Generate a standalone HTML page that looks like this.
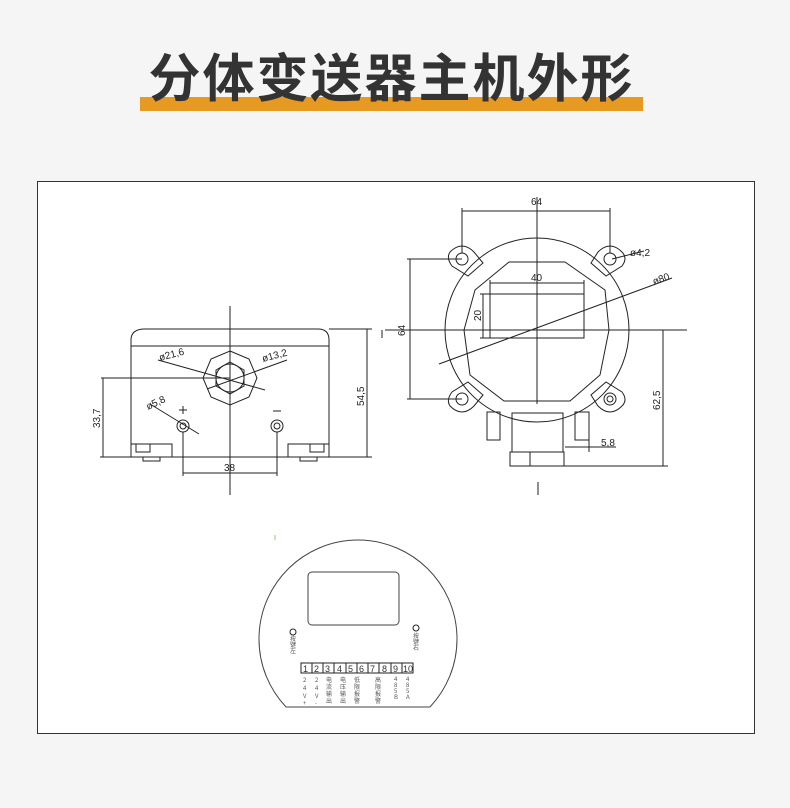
<!DOCTYPE html>
<html><head><meta charset="utf-8"><style>
body{margin:0;background:#f5f5f5;width:790px;height:808px;overflow:hidden;position:relative;font-family:"Liberation Sans","Noto Sans CJK SC",sans-serif}
.bar{position:absolute;left:140px;top:97px;width:503px;height:14px;background:#e69a22}
.title{position:absolute;left:140px;width:503px;top:40px;text-align:center;font-family:"Noto Sans CJK SC",sans-serif;font-weight:bold;font-size:52px;line-height:70px;color:#333;letter-spacing:2px;white-space:nowrap}
.box{position:absolute;left:37px;top:181px;width:716px;height:551px;background:#fff;border:1px solid #333}
svg{position:absolute;left:0;top:0}
</style></head><body>
<div class="bar"></div>
<div class="title">分体变送器主机外形</div>
<div class="box"></div>
<svg width="790" height="808" viewBox="0 0 790 808" fill="none" stroke="#222" stroke-width="1" font-family="Liberation Sans, sans-serif">
<!-- Left drawing -->
<path d="M131 346 L131 340 Q131 329 145 329 L318 329 Q329 329 329 340 L329 346 Z"/>
<line x1="131" y1="346" x2="329" y2="346"/>
<rect x="131" y="346" width="198" height="111"/>
<line x1="230" y1="306" x2="230" y2="495"/>
<polygon points="230,351 249,359 257,378 249,397 230,405 211,397 203,378 211,359"/>
<polygon points="230,362 244,370 244,386 230,394 216,386 216,370"/>
<circle cx="230" cy="378" r="14"/>
<rect x="131" y="444" width="41" height="13"/><rect x="136" y="444" width="14" height="8"/><rect x="143" y="457" width="17" height="4"/>
<rect x="288" y="444" width="41" height="13"/><rect x="310" y="444" width="14" height="8"/><rect x="300" y="457" width="17" height="4"/>
<circle cx="183" cy="426" r="6"/><circle cx="183" cy="426" r="3"/>
<circle cx="277" cy="426" r="6"/><circle cx="277" cy="426" r="3"/>
<line x1="183" y1="432" x2="183" y2="476"/><line x1="277" y1="432" x2="277" y2="476"/>
<line x1="183" y1="473" x2="277" y2="473"/>
<line x1="101" y1="378" x2="230" y2="378"/><line x1="103" y1="378" x2="103" y2="457"/><line x1="100" y1="457" x2="131" y2="457"/>
<line x1="329" y1="329" x2="372" y2="329"/><line x1="329" y1="457" x2="372" y2="457"/><line x1="367" y1="329" x2="367" y2="457"/>
<line x1="158" y1="360" x2="265" y2="390"/><line x1="207" y1="389" x2="287" y2="360"/>
<line x1="150" y1="404" x2="199" y2="434"/>
<line x1="179" y1="410" x2="187" y2="410"/><line x1="183" y1="406" x2="183" y2="414"/>
<line x1="273" y1="411" x2="281" y2="411"/>
<line x1="382" y1="330" x2="382" y2="338"/>
<g fill="#222" stroke="none" font-size="10">
<text x="160" y="361" transform="rotate(-15 160 361)">ø21,6</text>
<text x="263" y="362" transform="rotate(-15 263 362)">ø13,2</text>
<text x="148" y="410" transform="rotate(-25 148 410)">ø5,8</text>
<text x="224" y="471">38</text>
<text x="100" y="428" transform="rotate(-90 100 428)">33,7</text>
<text x="364" y="406" transform="rotate(-90 364 406)">54,5</text>
</g>
<!-- Right drawing -->
<circle cx="537" cy="330" r="92"/>
<polygon points="509,262 565,262 605,290 609,330 600,375 570,401 504,401 470,375 464,330 475,290"/>
<g>
<path d="M450 252 Q462 240 474 252 L483 263 L468 276 L452 266 Q446 258 450 252Z"/>
<path d="M622 252 Q610 240 598 252 L591 263 L606 276 L622 266 Q628 258 622 252Z"/>
<path d="M450 406 Q462 418 474 406 L483 395 L468 382 L452 392 Q446 400 450 406Z"/>
<path d="M622 406 Q610 418 598 406 L591 395 L606 382 L622 392 Q628 400 622 406Z"/>
<circle cx="462" cy="259" r="6"/><circle cx="610" cy="259" r="6"/><circle cx="462" cy="399" r="6"/><circle cx="610" cy="399" r="6"/>
<circle cx="610" cy="399" r="3"/>
</g>
<line x1="462" y1="208" x2="462" y2="253"/><line x1="610" y1="208" x2="610" y2="253"/><line x1="462" y1="211" x2="610" y2="211"/>
<line x1="537" y1="197" x2="537" y2="404"/><line x1="385" y1="330" x2="687" y2="330"/>
<rect x="490" y="294" width="94" height="44"/>
<line x1="490" y1="283" x2="584" y2="283"/><line x1="490" y1="280" x2="490" y2="294"/><line x1="584" y1="280" x2="584" y2="294"/>
<line x1="483" y1="294" x2="483" y2="338"/><line x1="480" y1="294" x2="490" y2="294"/><line x1="480" y1="338" x2="490" y2="338"/>
<line x1="407" y1="259" x2="462" y2="259"/><line x1="407" y1="399" x2="462" y2="399"/><line x1="410" y1="259" x2="410" y2="399"/>
<line x1="439" y1="364" x2="672" y2="278"/>
<line x1="612" y1="259" x2="644" y2="251"/>
<rect x="512" y="413" width="51" height="39"/>
<rect x="510" y="452" width="54" height="14"/><line x1="530" y1="452" x2="530" y2="466"/>
<rect x="487" y="412" width="13" height="28"/><rect x="575" y="412" width="14" height="28"/>
<line x1="564" y1="466" x2="668" y2="466"/><line x1="663" y1="330" x2="663" y2="466"/>
<line x1="565" y1="447" x2="616" y2="447"/><line x1="589" y1="440" x2="589" y2="452"/>
<line x1="538" y1="482" x2="538" y2="495"/>
<g fill="#222" stroke="none" font-size="10">
<text x="531" y="205">64</text>
<text x="531" y="281">40</text>
<text x="481" y="321" transform="rotate(-90 481 321)">20</text>
<text x="405" y="336" transform="rotate(-90 405 336)">64</text>
<text x="630" y="256">ø4,2</text>
<text x="654" y="285" transform="rotate(-20 654 285)">ø80</text>
<text x="601" y="446">5,8</text>
<text x="660" y="410" transform="rotate(-90 660 410)">62,5</text>
</g>
<!-- Bottom drawing -->
<path d="M286 707 A99 99 0 1 1 430 707 Z" stroke="#444"/>
<rect x="308" y="572" width="91" height="53" rx="4" stroke="#444"/>
<circle cx="293" cy="632" r="3"/><circle cx="416" cy="628" r="3"/>
<rect x="301" y="663" width="112" height="10"/>
<g>
<line x1="312" y1="663" x2="312" y2="673"/><line x1="323" y1="663" x2="323" y2="673"/><line x1="334" y1="663" x2="334" y2="673"/><line x1="346" y1="663" x2="346" y2="673"/><line x1="357" y1="663" x2="357" y2="673"/><line x1="368" y1="663" x2="368" y2="673"/><line x1="379" y1="663" x2="379" y2="673"/><line x1="391" y1="663" x2="391" y2="673"/><line x1="402" y1="663" x2="402" y2="673"/>
</g>
<line x1="275" y1="535" x2="275" y2="540" stroke="#8c8"/>
<g fill="#333" stroke="none" font-size="9">
<text x="303" y="672">1</text><text x="314" y="672">2</text><text x="325" y="672">3</text><text x="337" y="672">4</text><text x="348" y="672">5</text><text x="359" y="672">6</text><text x="370" y="672">7</text><text x="382" y="672">8</text><text x="393" y="672">9</text><text x="403" y="672">10</text>
</g>
<g fill="#555" stroke="none" font-size="6" font-family="Noto Sans CJK SC, sans-serif">
<text x="303" y="682">2</text><text x="303" y="690">4</text><text x="303" y="698">V</text><text x="303" y="705">+</text>
<text x="315" y="682">2</text><text x="315" y="690">4</text><text x="315" y="698">V</text><text x="315" y="705">-</text>
<text x="326" y="682">电</text><text x="326" y="689">流</text><text x="326" y="696">输</text><text x="326" y="703">出</text>
<text x="340" y="682">电</text><text x="340" y="689">压</text><text x="340" y="696">输</text><text x="340" y="703">出</text>
<text x="354" y="682">低</text><text x="354" y="689">限</text><text x="354" y="696">报</text><text x="354" y="703">警</text>
<text x="375" y="682">高</text><text x="375" y="689">限</text><text x="375" y="696">报</text><text x="375" y="703">警</text>
<text x="394" y="681">4</text><text x="394" y="687">8</text><text x="394" y="693">5</text><text x="394" y="699">B</text>
<text x="406" y="681">4</text><text x="406" y="687">8</text><text x="406" y="693">5</text><text x="406" y="699">A</text>
<text x="290" y="641">按</text><text x="290" y="647">键</text><text x="290" y="653">左</text>
<text x="413" y="638">按</text><text x="413" y="644">键</text><text x="413" y="650">右</text>
</g>
</svg>
</body></html>
